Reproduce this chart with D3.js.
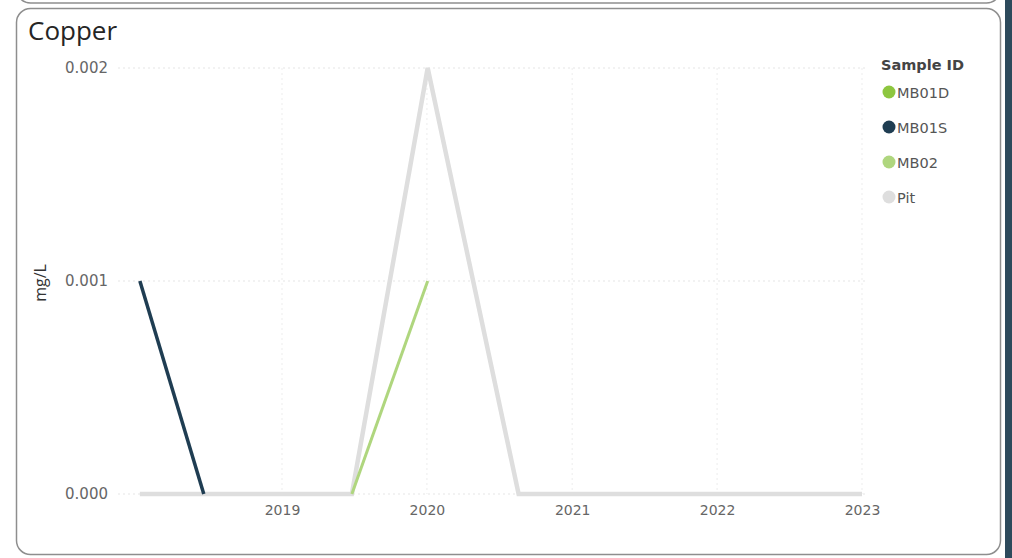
<!DOCTYPE html>
<html>
<head>
<meta charset="utf-8">
<script src="https://cdn.jsdelivr.net/npm/d3@7/dist/d3.min.js"></script>
<style>
  html, body { margin: 0; padding: 0; background: #ffffff; }
  svg { display: block; }
</style>
</head>
<body>
<svg id="chart" width="1012" height="558"></svg>
<script>
// Copper concentration (mg/L) by sample location
const seriesNames = ["MB01D", "MB01S", "MB02", "Pit"];
const seriesColors = ["#8dc63f", "#1f3d52", "#afd67e", "#dedede"];

const pitDates  = ["2018-01-08", "2018-06-18", "2019-06-26", "2020-01-03", "2020-08-19", "2021-08-15", "2022-08-15", "2023-01-01"];
const pitValues = [0, 0, 0, 0.002, 0, 0, 0, 0];

const mb01sDates  = ["2018-01-08", "2018-06-18"];
const mb01sValues = [0.001, 0];

const mb02Dates  = ["2019-06-26", "2020-01-03"];
const mb02Values = [0, 0.001];

const mb01dDates  = [];
const mb01dValues = [];

const yTicks = [0, 0.001, 0.002];
const xTickYears = [2019, 2020, 2021, 2022, 2023];

const parse = d3.timeParse("%Y-%m-%d");
const toPoints = (dates, values) => dates.map((d, i) => ({ date: parse(d), value: values[i] }));

const series = [
  { name: "Pit",   color: seriesColors[3], width: 4.5, points: toPoints(pitDates, pitValues) },
  { name: "MB01D", color: seriesColors[0], width: 3,   points: toPoints(mb01dDates, mb01dValues) },
  { name: "MB02",  color: seriesColors[2], width: 3,   points: toPoints(mb02Dates, mb02Values) },
  { name: "MB01S", color: seriesColors[1], width: 3.5, points: toPoints(mb01sDates, mb01sValues) }
];

const svg = d3.select("#chart");

// page chrome: dark side strip and card borders
svg.append("rect").attr("x", 1005).attr("y", 0).attr("width", 7).attr("height", 558).attr("fill", "#2d4a5c");
svg.append("rect").attr("x", 16.5).attr("y", -40).attr("width", 984).attr("height", 43)
  .attr("rx", 14).attr("fill", "none").attr("stroke", "#8e8e8e").attr("stroke-width", 1.5);
svg.append("rect").attr("x", 16.5).attr("y", 8.5).attr("width", 984).attr("height", 546)
  .attr("rx", 14).attr("fill", "#ffffff").attr("stroke", "#8e8e8e").attr("stroke-width", 1.5);

const x = d3.scaleTime()
  .domain([new Date(2019, 0, 1), new Date(2023, 0, 1)])
  .range([282, 862]);
const y = d3.scaleLinear().domain([0, 0.002]).range([494, 68]);

// grid
const grid = svg.append("g");
grid.selectAll("line.h").data(yTicks).join("line")
  .attr("x1", 118).attr("x2", 866)
  .attr("y1", d => y(d)).attr("y2", d => y(d))
  .attr("stroke", "#e6e6e6").attr("stroke-width", 1.2).attr("stroke-dasharray", "2,3");
grid.selectAll("line.v").data(xTickYears).join("line")
  .attr("x1", d => x(new Date(d, 0, 1))).attr("x2", d => x(new Date(d, 0, 1)))
  .attr("y1", 68).attr("y2", 494)
  .attr("stroke", "#f0f0f0").attr("stroke-width", 1.2).attr("stroke-dasharray", "2,3");

// axes
const tickFont = "'DejaVu Sans', Verdana, sans-serif";
const yAxis = svg.append("g").attr("transform", "translate(112,0)")
  .call(d3.axisLeft(y).tickValues(yTicks).tickFormat(d3.format(".3f")).tickSize(0).tickPadding(4));
yAxis.select(".domain").remove();
yAxis.selectAll("text").attr("font-family", tickFont).attr("font-size", 15).attr("fill", "#666");

const xAxis = svg.append("g").attr("transform", "translate(0,499)")
  .call(d3.axisBottom(x).tickValues(xTickYears.map(yy => new Date(yy, 0, 1)))
    .tickFormat(d3.timeFormat("%Y")).tickSize(0).tickPadding(6));
xAxis.select(".domain").remove();
xAxis.selectAll("text").attr("font-family", tickFont).attr("font-size", 14).attr("fill", "#666");

// lines
const line = d3.line().x(d => x(d.date)).y(d => y(d.value));
svg.append("g").selectAll("path").data(series.filter(s => s.points.length)).join("path")
  .attr("d", s => line(s.points))
  .attr("fill", "none")
  .attr("stroke", s => s.color)
  .attr("stroke-width", s => s.width)
  .attr("stroke-linejoin", "miter");

// title and axis label
svg.append("text").attr("x", 28).attr("y", 40).text("Copper")
  .attr("font-family", "'Open Sans', 'Noto Sans', sans-serif").attr("font-size", 26).attr("fill", "#252525");
svg.append("text").attr("transform", "translate(46,283) rotate(-90)").attr("text-anchor", "middle")
  .text("mg/L").attr("font-family", "'Open Sans', 'Noto Sans', sans-serif").attr("font-size", 16).attr("fill", "#333");

// legend
const legend = svg.append("g").attr("transform", "translate(881,0)");
legend.append("text").attr("x", 0).attr("y", 70).text("Sample ID")
  .attr("font-family", tickFont).attr("font-size", 14.5).attr("font-weight", "bold").attr("fill", "#444");
const items = legend.selectAll("g.item").data(seriesNames).join("g")
  .attr("transform", (d, i) => `translate(0,${92 + i * 35})`);
items.append("circle").attr("cx", 8).attr("cy", 0).attr("r", 6.5)
  .attr("fill", (d, i) => seriesColors[i]);
items.append("text").attr("x", 16).attr("y", 5.5).text(d => d)
  .attr("font-family", tickFont).attr("font-size", 14.5).attr("fill", "#555");
</script>
</body>
</html>
